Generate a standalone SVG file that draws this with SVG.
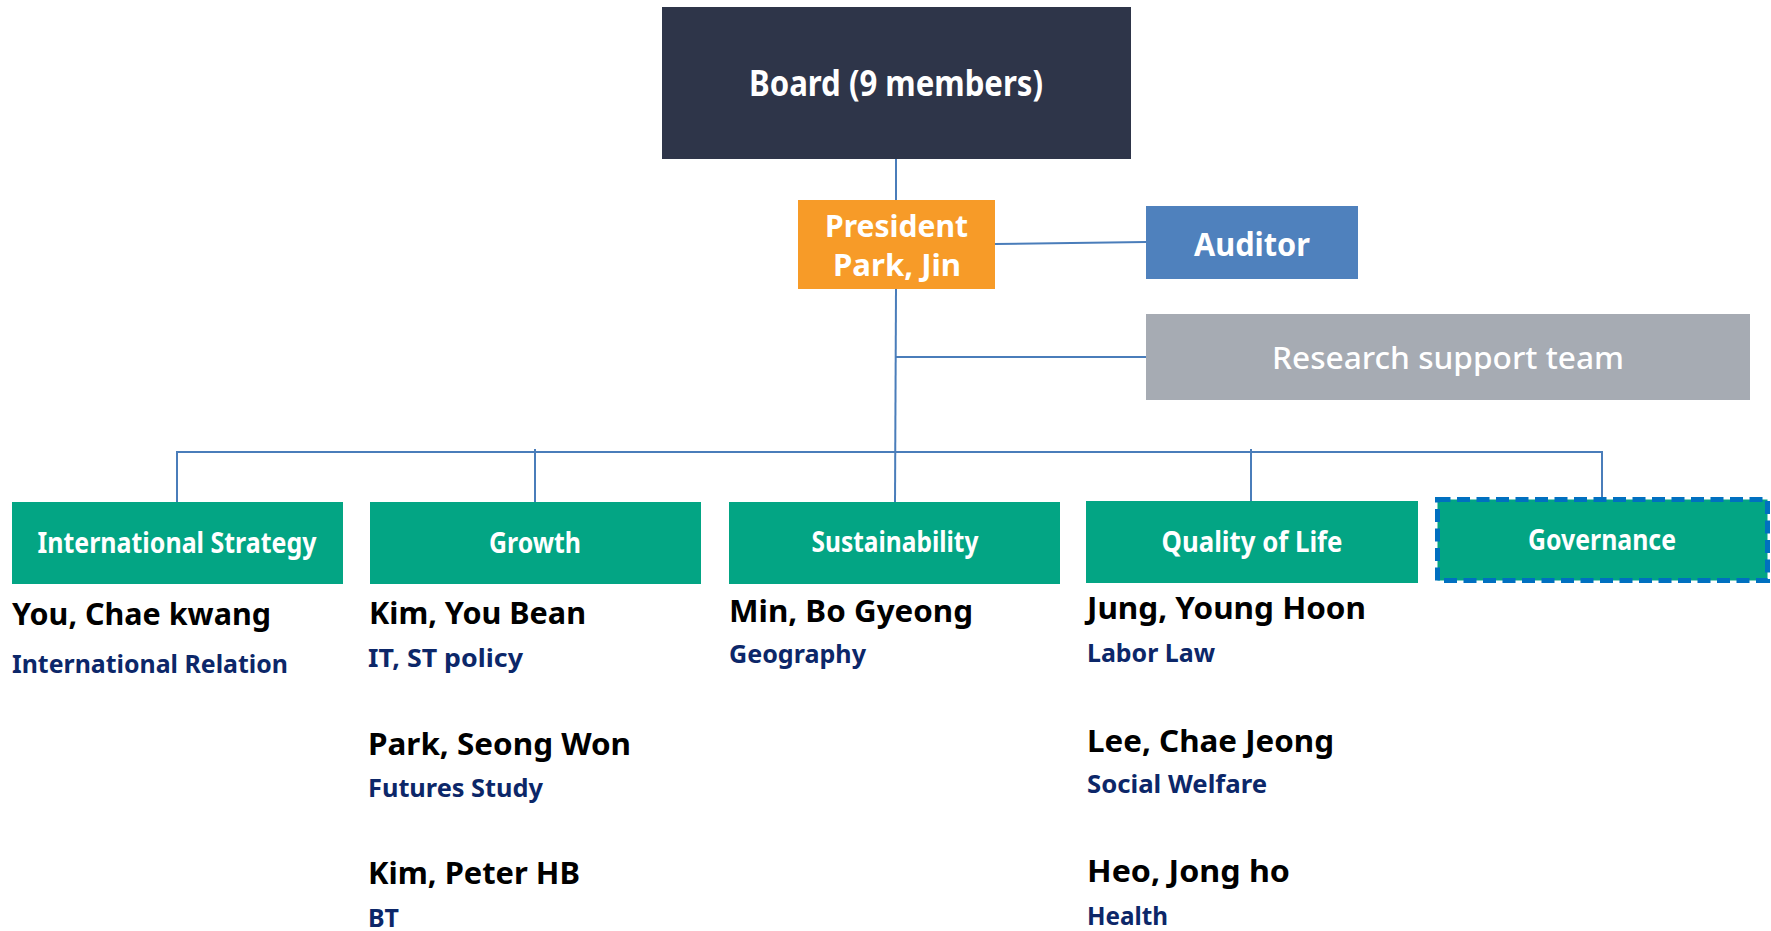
<svg xmlns="http://www.w3.org/2000/svg" width="1771" height="931" viewBox="0 0 1771 931">
<style>
text{font-family:"Noto Sans","Open Sans","Liberation Sans",sans-serif;}
.w{fill:#fff;font-weight:bold;text-anchor:middle;}
.g{font-size:28px;}
.nm{fill:#000;font-weight:bold;font-size:31px;}
.sb{fill:#0C2769;font-weight:bold;font-size:25px;}
.ln{stroke:#4A7DBA;stroke-width:2;fill:none;}
.grn{fill:#03A584;}
</style>
<rect width="1771" height="931" fill="#fff"/>
<g id="connectors">
<line class="ln" x1="896" y1="159" x2="896" y2="200"/>
<polyline class="ln" points="995,244 1146,242"/>
<line class="ln" x1="896" y1="289" x2="895" y2="502"/>
<line class="ln" x1="896" y1="357" x2="1146" y2="357"/>
<polyline class="ln" points="177,502 177,452 1602,452 1602,497"/>
<line class="ln" x1="535" y1="449" x2="535" y2="502"/>
<line class="ln" x1="1251" y1="449" x2="1251" y2="501"/>
</g>
<g id="board">
<rect x="662" y="7" width="469" height="152" fill="#2E3549"/>
<text class="w" x="896" y="96" font-size="36" textLength="294" lengthAdjust="spacingAndGlyphs">Board (9 members)</text>
</g>
<g id="president">
<rect x="798" y="200" width="197" height="89" fill="#F79B28"/>
<text class="w" x="896.5" y="237" font-size="31" textLength="143" lengthAdjust="spacingAndGlyphs">President</text>
<text class="w" x="897" y="276" font-size="31" textLength="128" lengthAdjust="spacingAndGlyphs">Park, Jin</text>
</g>
<g id="auditor">
<rect x="1146" y="206" width="212" height="73" fill="#4F81BD"/>
<text class="w" x="1252" y="256" font-size="32" textLength="116" lengthAdjust="spacingAndGlyphs">Auditor</text>
</g>
<g id="research">
<rect x="1146" y="314" width="604" height="86" fill="#A6ABB3"/>
<text x="1448" y="369" font-size="31" font-weight="500" fill="#fff" text-anchor="middle" textLength="352" lengthAdjust="spacingAndGlyphs">Research support team</text>
</g>
<g id="intl">
<rect class="grn" x="12" y="502" width="331" height="82"/>
<text class="w g" x="177" y="553" textLength="279" lengthAdjust="spacingAndGlyphs">International Strategy</text>
<text class="nm" x="12" y="625" textLength="259" lengthAdjust="spacingAndGlyphs">You, Chae kwang</text>
<text class="sb" x="12" y="673" textLength="276" lengthAdjust="spacingAndGlyphs">International Relation</text>
</g>
<g id="growth">
<rect class="grn" x="370" y="502" width="331" height="82"/>
<text class="w g" x="535" y="553" textLength="92" lengthAdjust="spacingAndGlyphs">Growth</text>
<text class="nm" x="369" y="624" textLength="217" lengthAdjust="spacingAndGlyphs">Kim, You Bean</text>
<text class="sb" x="368" y="667" textLength="155" lengthAdjust="spacingAndGlyphs">IT, ST policy</text>
<text class="nm" x="368" y="755" textLength="263" lengthAdjust="spacingAndGlyphs">Park, Seong Won</text>
<text class="sb" x="368" y="797" textLength="175" lengthAdjust="spacingAndGlyphs">Futures Study</text>
<text class="nm" x="368" y="884" textLength="212" lengthAdjust="spacingAndGlyphs">Kim, Peter HB</text>
<text class="sb" x="368" y="927" textLength="31" lengthAdjust="spacingAndGlyphs">BT</text>
</g>
<g id="sustainability">
<rect class="grn" x="729" y="502" width="331" height="82"/>
<text class="w g" x="895" y="552" textLength="167" lengthAdjust="spacingAndGlyphs">Sustainability</text>
<text class="nm" x="729" y="622" textLength="244" lengthAdjust="spacingAndGlyphs">Min, Bo Gyeong</text>
<text class="sb" x="729" y="663" textLength="137" lengthAdjust="spacingAndGlyphs">Geography</text>
</g>
<g id="quality">
<rect class="grn" x="1086" y="501" width="332" height="82"/>
<text class="w g" x="1252" y="552" textLength="181" lengthAdjust="spacingAndGlyphs">Quality of Life</text>
<text class="nm" x="1087" y="619" textLength="279" lengthAdjust="spacingAndGlyphs">Jung, Young Hoon</text>
<text class="sb" x="1087" y="662" textLength="128" lengthAdjust="spacingAndGlyphs">Labor Law</text>
<text class="nm" x="1087" y="752" textLength="247" lengthAdjust="spacingAndGlyphs">Lee, Chae Jeong</text>
<text class="sb" x="1087" y="793" textLength="180" lengthAdjust="spacingAndGlyphs">Social Welfare</text>
<text class="nm" x="1087" y="882" textLength="203" lengthAdjust="spacingAndGlyphs">Heo, Jong ho</text>
<text class="sb" x="1087" y="925" textLength="81" lengthAdjust="spacingAndGlyphs">Health</text>
</g>
<g id="governance">
<rect class="grn" x="1437.5" y="499.5" width="330" height="81" stroke="#0070C0" stroke-width="5" stroke-dasharray="13 6.5"/>
<text class="w g" x="1602" y="550" textLength="148" lengthAdjust="spacingAndGlyphs">Governance</text>
</g>
</svg>
